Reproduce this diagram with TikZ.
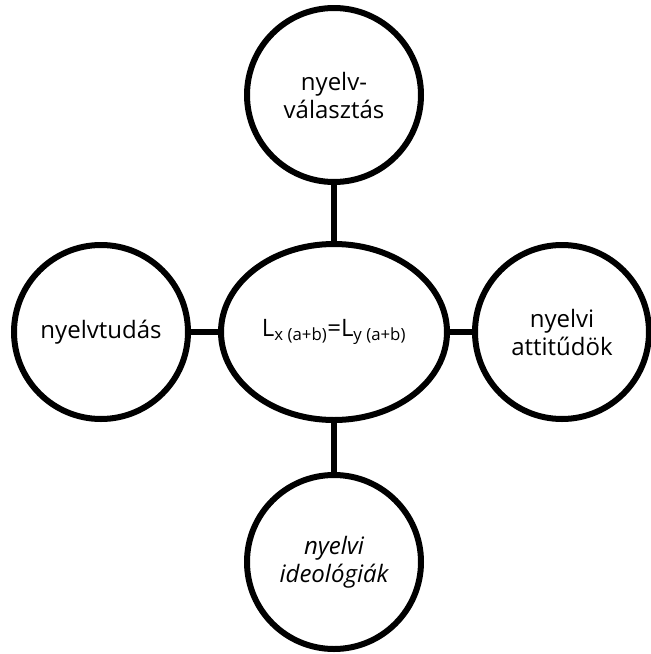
\documentclass[tikz,border=0pt]{standalone}
\usepackage{fontspec}
\setmainfont{Open Sans}
\usepackage{tikz}
\usetikzlibrary{shapes, positioning}

\begin{document}
\begin{tikzpicture}[
    x=1pt, y=-1pt,
    topic/.style={circle, draw, line width=6pt, minimum size=174pt, inner sep=0pt,
        align=center, font=\fontsize{24}{28}\selectfont},
    core/.style={ellipse, draw, line width=6pt, minimum width=226pt, minimum height=176pt,
        inner sep=0pt, align=center, font=\fontsize{24}{28}\selectfont},
    link/.style={line width=6pt}
]
    \useasboundingbox (0,0) rectangle (651,654);

    % Central node
    \node[core] (center) at (334,332) {L\textsubscript{x (a+b)}=L\textsubscript{y (a+b)}};

    % Surrounding circles
    \node[topic] (choice) at (334,95) {nyelv-\\választás};
    \node[topic] (skill) at (101,332) {nyelvtudás};
    \node[topic] (attitude) at (562,332) {nyelvi\\attitűdök};
    \node[topic] (ideology) at (334,562) {\itshape nyelvi\\\itshape ideológiák};

    % Links
    \draw[link] (center) -- (choice);
    \draw[link] (center) -- (skill);
    \draw[link] (center) -- (attitude);
    \draw[link] (center) -- (ideology);
\end{tikzpicture}
\end{document}
